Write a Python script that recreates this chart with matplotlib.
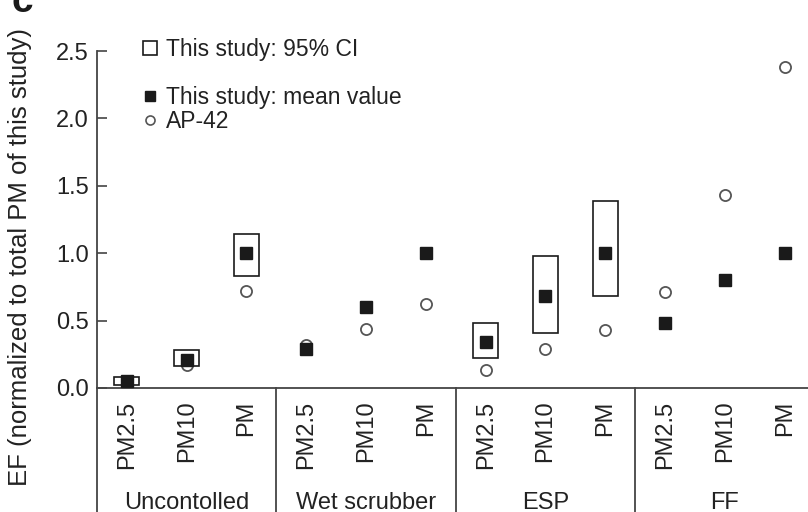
import numpy as np
import matplotlib
matplotlib.use('Agg')
import matplotlib.pyplot as plt
from matplotlib.patches import Rectangle
from matplotlib.lines import Line2D

plt.rcParams['font.family'] = ['Liberation Sans', 'DejaVu Sans']
plt.rcParams['font.size'] = 17

# data
groups = ['Uncontolled', 'Wet scrubber', 'ESP', 'FF']
sizes = ['PM2.5', 'PM10', 'PM']
mean_val = [0.05, 0.21, 1.0, 0.29, 0.60, 1.0, 0.34, 0.685, 1.0, 0.48, 0.80, 1.0]
ci_low = [0.02, 0.16, 0.83, None, None, None, 0.22, 0.41, 0.68, None, None, None]
ci_high = [0.08, 0.28, 1.14, None, None, None, 0.48, 0.98, 1.39, None, None, None]
ap42 = [0.05, 0.17, 0.72, 0.32, 0.44, 0.62, 0.13, 0.29, 0.43, 0.71, 1.43, 2.38]

ink = '#1a1a1a'
line_col = '#444444'

fig = plt.figure(figsize=(8.08, 5.12), dpi=100)
ax = fig.add_axes([97 / 808, 124 / 512, 711 / 808, 337 / 512])

x = np.arange(len(mean_val))

# 95% CI boxes
w = 0.42
for xi, lo, hi in zip(x, ci_low, ci_high):
    if lo is None:
        continue
    ax.add_patch(Rectangle((xi - w / 2, lo), w, hi - lo, fill=False,
                           edgecolor=ink, linewidth=1.2, zorder=2))

ax.plot(x, ap42, 'o', ms=8, mfc='white', mec='#555555', mew=1.3, ls='none', zorder=3)
ax.plot(x, mean_val, 's', ms=8.5, color=ink, ls='none', zorder=4)

ax.set_xlim(-0.5, 11.39)
ax.set_ylim(0, 2.5)
ax.set_yticks([0, 0.5, 1.0, 1.5, 2.0, 2.5])
ax.set_yticklabels(['0.0', '0.5', '1.0', '1.5', '2.0', '2.5'])
ax.tick_params(axis='y', direction='in', length=7, width=1.2, color=line_col,
               pad=6, labelcolor='#222222', labelsize=17)
ax.set_xticks(x)
ax.set_xticklabels(sizes * len(groups), rotation=90)
ax.tick_params(axis='x', length=0, pad=9, labelcolor='#222222', labelsize=17)

for side in ['top', 'right']:
    ax.spines[side].set_visible(False)
for side in ['left', 'bottom']:
    ax.spines[side].set_color(line_col)
    ax.spines[side].set_linewidth(1.3)

ax.set_ylabel('EF (normalized to total PM of this study)', fontsize=18.5,
              color='#222222')
ax.yaxis.set_label_coords(-0.092, 0.39)

# separators and group names under the axis
bottom = -124 / 337
trans = ax.get_xaxis_transform()
ax.plot([-0.5, -0.5], [0, bottom], color=line_col, lw=1.3, transform=trans, clip_on=False)
for k in range(1, len(groups)):
    xs = 3 * k - 0.5
    ax.plot([xs, xs], [0, bottom], color=line_col, lw=1.3, transform=trans, clip_on=False)
for k, g in enumerate(groups):
    ax.text(3 * k + 1, -0.34, g, transform=trans, ha='center', va='center',
            fontsize=17, color='#222222')

# legend
handles = [
    Line2D([], [], marker='s', ms=10.5, mfc='white', mec=ink, mew=1.2, ls='none'),
    Line2D([], [], ls='none'),
    Line2D([], [], marker='s', ms=7.5, color=ink, ls='none'),
    Line2D([], [], marker='o', ms=6.5, mfc='white', mec='#555555', mew=1.2, ls='none'),
]
labels = ['This study: 95% CI', ' ', 'This study: mean value', 'AP-42']
ax.legend(handles, labels, loc='upper left', bbox_to_anchor=(0.045, 1.073),
          frameon=False, fontsize=16.5, handlelength=0.8, handletextpad=0.3,
          labelspacing=0.05, borderpad=0, labelcolor='#222222')

# panel letter, cut off at the top edge as in the original
fig.text(22 / 808, 1 - 12 / 512, 'c', fontsize=28, fontweight='bold',
         ha='center', va='baseline', color=ink)

fig.savefig('out.png', dpi=100)
